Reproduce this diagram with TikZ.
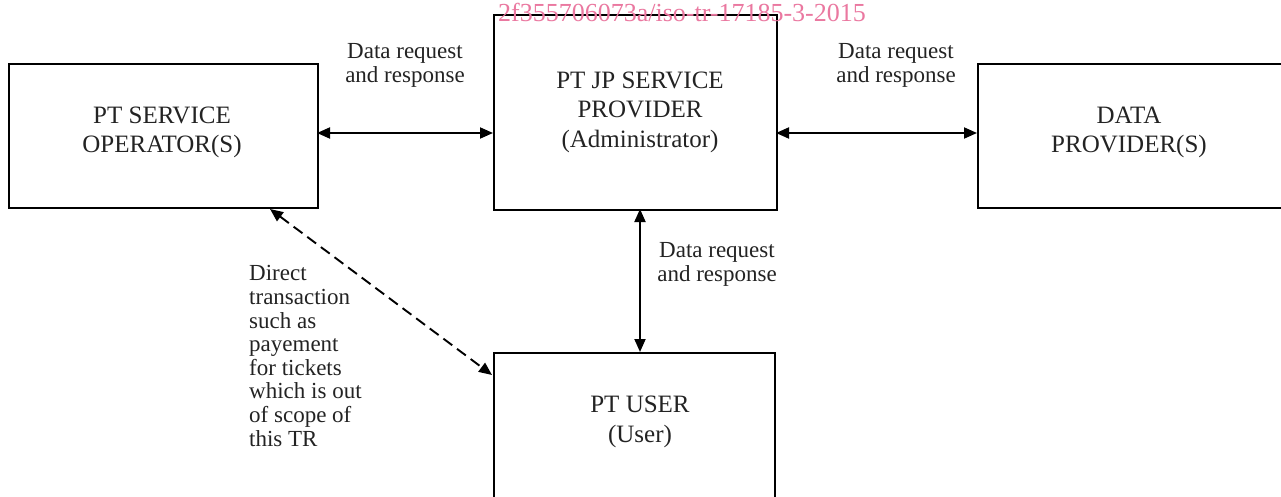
\documentclass[tikz,border=0pt]{standalone}
\usepackage{fontspec}
\setmainfont{Liberation Serif}
\usetikzlibrary{arrows.meta}
\definecolor{wmpink}{RGB}{234,120,160}
\definecolor{txtgray}{RGB}{35,35,35}
\tikzset{
  blk/.style={draw=black, line width=2pt, inner sep=0pt, anchor=north west},
  boxtext/.style={text=txtgray, font=\fontsize{25}{29.5}\selectfont, align=center, inner sep=0pt},
  lbl/.style={text=txtgray, font=\fontsize{23}{23.6}\selectfont, align=center, inner sep=0pt},
  conn/.style={line width=1.9pt, {Triangle[length=13pt,width=11pt]}-{Triangle[length=13pt,width=11pt]}},
  dconn/.style={conn, dash pattern=on 11pt off 6pt}
}
\begin{document}
\begin{tikzpicture}[x=1pt,y=-1pt]
\useasboundingbox (0,0) rectangle (1281,497);
\clip (0,0) rectangle (1281,497);
% boxes
\node[blk, minimum width=309pt, minimum height=144pt] (op) at (8,63) {};
\node[blk, minimum width=283pt, minimum height=195pt] (jp) at (493,14) {};
\node[blk, minimum width=320pt, minimum height=144pt] (dp) at (977,63) {};
\node[blk, minimum width=281pt, minimum height=160pt] (us) at (493,352) {};
% box texts
\node[boxtext] (optxt) at (162,132.5) {PT SERVICE\\OPERATOR(S)};
\node[boxtext] (jptxt) at (640,112) {PT JP SERVICE\\PROVIDER\\(Administrator)};
\node[boxtext] (dptxt) at (1129,132.5) {DATA\\PROVIDER(S)};
\node[boxtext] (ustxt) at (640,422) {PT USER\\(User)};
% connector coordinates
\coordinate (vtop) at (640,209);
\coordinate (vbot) at (640,352);
\coordinate (dtop) at (270,209);
\coordinate (dbot) at (492,375);
\coordinate (lA) at (317,133);
\coordinate (lB) at (493,133);
\coordinate (rA) at (776,133);
\coordinate (rB) at (977,133);
% connectors
\draw[conn] (lA) -- (lB);
\draw[conn] (rA) -- (rB);
\draw[conn] (vtop) -- (vbot);
\draw[dconn] (dtop) -- (dbot);
% labels
\node[lbl] (l1) at (405,65.5) {Data request\\and response};
\node[lbl] (l2) at (896,65.5) {Data request\\and response};
\node[lbl] (l3) at (717,264.5) {Data request\\and response};
\node[lbl, align=left, anchor=west] (l4) at (249,356) {Direct\\transaction\\such as\\payement\\for tickets\\which is out\\of scope of\\this TR};
% watermark
\node[text=wmpink, font=\fontsize{26}{28}\selectfont, inner sep=0pt] (wm) at (682,12.5) {2f355706073a/iso-tr-17185-3-2015};
\end{tikzpicture}
\end{document}
